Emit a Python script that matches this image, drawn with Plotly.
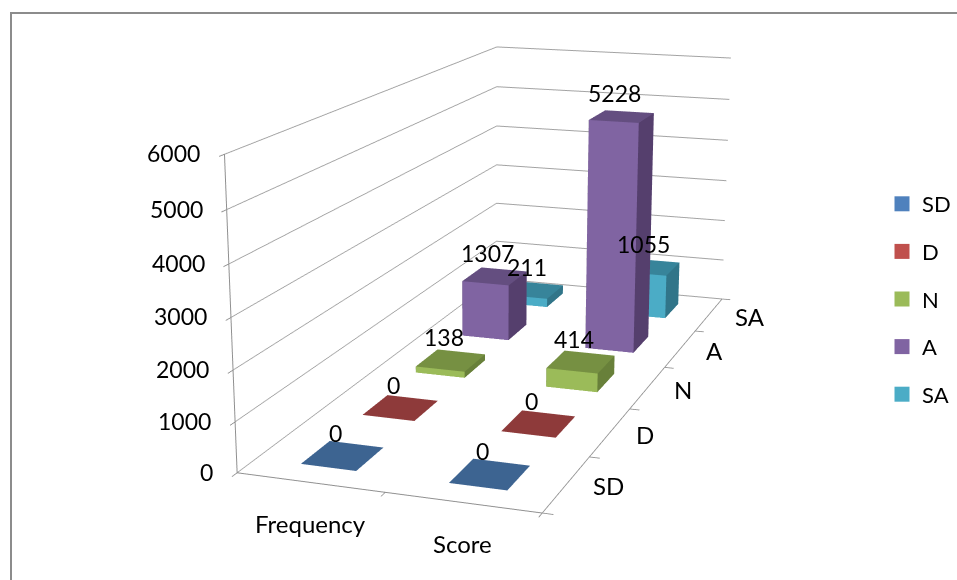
import plotly.graph_objects as go

categories = ["Frequency", "Score"]
levels = ["SD", "D", "N", "A", "SA"]
sd_values = [0, 0]
d_values = [0, 0]
n_values = [138, 414]
a_values = [1307, 5228]
sa_values = [211, 1055]
z_ticks = [0, 1000, 2000, 3000, 4000, 5000, 6000]
series = [sd_values, d_values, n_values, a_values, sa_values]
front_colors = ["#4F81BD", "#C0504D", "#9BBB59", "#8064A2", "#4BACC6"]
top_colors = ["#3D6491", "#8E3A3A", "#769042", "#644E80", "#37849A"]
side_colors = ["#375A84", "#7F3433", "#68803A", "#553F6D", "#317589"]

# The scene needs a long lens, so the figure is larger than the window and is offset inside it.
FW, FH = 999, 1513
LEFT, TOP = -13, -450
ZMAX = 6000
BAR_W = 0.38
BAR_D = 0.45


def paper_x(px):
    return (px - LEFT) / FW


def paper_y(py):
    return 1 - (py - TOP) / FH


def box(xc, yc, h, fc, tc, sc):
    x0, x1 = xc - BAR_W / 2, xc + BAR_W / 2
    y0, y1 = yc - BAR_D / 2, yc + BAR_D / 2
    vx = [x0, x1, x1, x0, x0, x1, x1, x0]
    vy = [y0, y0, y1, y1, y0, y0, y1, y1]
    vz = [0, 0, 0, 0, h, h, h, h]
    if h == 0:
        faces = [(4, 5, 6, tc), (4, 6, 7, tc)]
    else:
        faces = [(4, 5, 6, tc), (4, 6, 7, tc), (0, 1, 5, fc), (0, 5, 4, fc),
                 (1, 2, 6, sc), (1, 6, 5, sc), (2, 3, 7, tc), (2, 7, 6, tc),
                 (3, 0, 4, sc), (3, 4, 7, sc)]
    i, j, k, col = zip(*faces)
    return go.Mesh3d(x=vx, y=vy, z=vz, i=i, j=j, k=k, facecolor=list(col), flatshading=True,
                     lighting=dict(ambient=1, diffuse=0, specular=0, fresnel=0),
                     hoverinfo="skip", showlegend=False, showscale=False)


NUM_FONT = dict(family="Lato", size=23, color="#000000")
TXT_FONT = dict(family="Lato", size=24, color="#000000")
fig = go.Figure()
annotations = []
for s, vals in enumerate(series):
    for c, v in enumerate(vals):
        fig.add_trace(box(c + .5, s + .5, v, front_colors[s], top_colors[s], side_colors[s]))
        annotations.append(dict(x=c + .5, y=s + .5, z=v, text=str(v), showarrow=False, font=NUM_FONT,
                                xshift=-7, yshift=23))
for t in z_ticks:
    annotations.append(dict(x=0, y=0, z=t, text=str(t), showarrow=False, font=NUM_FONT,
                            xanchor="right", xshift=-22, yshift=1))
for c, name in enumerate(categories):
    annotations.append(dict(x=c + .5, y=0, z=0, text=name, showarrow=False, font=TXT_FONT, yshift=-41))
for s, name in enumerate(levels):
    annotations.append(dict(x=2, y=s + .5, z=0, text=name, showarrow=False, font=TXT_FONT,
                            xanchor="left", xshift=24, yshift=-2))

for s, name in enumerate(levels):
    fig.add_trace(go.Scatter(x=[None], y=[None], mode="markers", name=name, legendgroup=name,
                             marker=dict(symbol="square", size=15, color=front_colors[s])))


def axis(rng, vals, **kw):
    return dict(range=rng, autorange=False, tickmode="array", tickvals=vals, showticklabels=False,
                title=dict(text=""), showbackground=False, showline=True, linecolor="#909090", linewidth=2,
                ticks="outside", ticklen=8, tickcolor="#909090", tickwidth=2, zeroline=False,
                showspikes=False, **kw)


fig.update_layout(
    width=FW, height=FH, margin=dict(l=0, r=0, t=0, b=0), paper_bgcolor="white", plot_bgcolor="white",
    xaxis=dict(visible=False), yaxis=dict(visible=False),
    scene=dict(
        domain=dict(x=[0, 1], y=[0, 1]),
        aspectmode="manual", aspectratio=dict(x=1, y=2.4934, z=1.0108),
        camera=dict(eye=dict(x=2.0015, y=-6.0406, z=1.5496), center=dict(x=-0.0127, y=-0.2787, z=-0.1784),
                    up=dict(x=-0.0014, y=-0.0037, z=1), projection=dict(type="perspective")),
        xaxis=axis([0, 2], [0, 1, 2], showgrid=False),
        yaxis=axis([0, 5], [0, 1, 2, 3, 4, 5], showgrid=False),
        zaxis=axis([0, ZMAX], z_ticks, showgrid=True, gridcolor="#a3a3a3", gridwidth=2),
        annotations=annotations,
    ),
    legend=dict(x=paper_x(882), y=paper_y(183), xanchor="left", yanchor="top", tracegroupgap=16,
                font=dict(family="Lato", size=22, color="#000000"), bgcolor="rgba(0,0,0,0)"),
    shapes=[dict(type="line", xref="paper", yref="paper", x0=paper_x(10), x1=1, y0=paper_y(13), y1=paper_y(13),
                 line=dict(color="#8c8c8c", width=2)),
            dict(type="line", xref="paper", yref="paper", x0=paper_x(11), x1=paper_x(11), y0=0, y1=paper_y(13),
                 line=dict(color="#8c8c8c", width=2))],
)
post = (
    "document.documentElement.style.overflow='hidden';document.body.style.overflow='hidden';"
    "document.body.style.margin='0';var g=document.getElementById('{plot_id}');"
    f"g.style.position='absolute';g.style.left='{LEFT}px';g.style.top='{TOP}px';"
)
fig.write_html("out.html", post_script=post, config=dict(displayModeBar=False))
